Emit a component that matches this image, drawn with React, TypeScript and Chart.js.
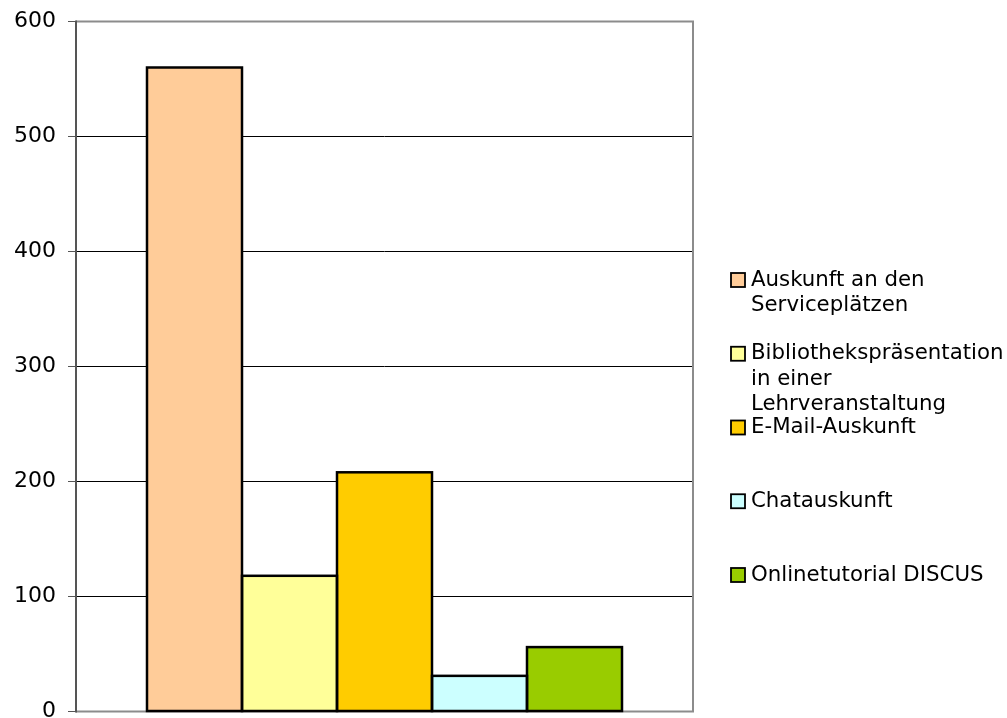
import { useEffect, useRef } from "react";
import { Chart, registerables } from "chart.js";

Chart.register(...registerables);

// Single category, one dataset per service type
const categories = [""];
const seriesLabels = [
  ["Auskunft an den", "Serviceplätzen"],
  ["Bibliothekspräsentation", "in einer", "Lehrveranstaltung"],
  ["E-Mail-Auskunft"],
  ["Chatauskunft"],
  ["Onlinetutorial DISCUS"],
];
const seriesValues = [560, 118, 208, 31, 56];
const seriesColors = ["#FFCC99", "#FFFF99", "#FFCC00", "#CCFFFF", "#99CC00"];
const yMin = 0;
const yMax = 600;
const yStep = 100;

const FONT = "'DejaVu Sans', Verdana, sans-serif";

// Gray frame around the plot area
const framePlugin = {
  id: "frame",
  beforeDatasetsDraw(chart: any) {
    const { ctx, chartArea: a } = chart;
    ctx.save();
    ctx.lineWidth = 2;
    ctx.strokeStyle = "#8c8c8c";
    ctx.beginPath();
    ctx.moveTo(a.left, a.top);
    ctx.lineTo(a.right, a.top);
    ctx.lineTo(a.right, a.bottom);
    ctx.lineTo(a.left, a.bottom);
    ctx.stroke();
    ctx.strokeStyle = "#555555";
    ctx.beginPath();
    ctx.moveTo(a.left, a.top - 1);
    ctx.lineTo(a.left, a.bottom + 1);
    ctx.stroke();
    ctx.restore();
  },
};

// Black outlines centred on the bar edges, so neighbouring bars share one line
const barOutlinePlugin = {
  id: "barOutline",
  afterDatasetsDraw(chart: any) {
    const { ctx } = chart;
    ctx.save();
    ctx.lineWidth = 2.5;
    ctx.strokeStyle = "#000";
    chart.data.datasets.forEach((_: any, i: number) => {
      const meta = chart.getDatasetMeta(i);
      meta.data.forEach((bar: any) => {
        const { x, y, base, width } = bar.getProps(["x", "y", "base", "width"], true);
        ctx.strokeRect(x - width / 2, Math.min(y, base), width, Math.abs(base - y));
      });
    });
    ctx.restore();
  },
};

// Legend on the right with wrapped entries at a fixed pitch
const legendPlugin = {
  id: "wrappedLegend",
  afterDraw(chart: any) {
    const { ctx } = chart;
    const x0 = 731;
    const firstY = 280;
    const pitch = 73.75;
    const lineH = 25.5;
    ctx.save();
    ctx.font = `21.3px ${FONT}`;
    ctx.textBaseline = "middle";
    ctx.textAlign = "left";
    chart.data.datasets.forEach((ds: any, i: number) => {
      const y = firstY + i * pitch;
      ctx.fillStyle = ds.backgroundColor;
      ctx.fillRect(x0, y - 7, 14, 14);
      ctx.lineWidth = 1.8;
      ctx.strokeStyle = "#000";
      ctx.strokeRect(x0, y - 7, 14, 14);
      ctx.fillStyle = "#000";
      seriesLabels[i].forEach((line, j) => {
        ctx.fillText(line, x0 + 20, y + j * lineH);
      });
    });
    ctx.restore();
  },
};

export default function App() {
  const ref = useRef<HTMLCanvasElement | null>(null);

  useEffect(() => {
    if (!ref.current) return;
    const chart = new Chart(ref.current, {
      type: "bar",
      data: {
        labels: categories,
        datasets: seriesValues.map((v, i) => ({
          label: seriesLabels[i].join(" "),
          data: [v],
          backgroundColor: seriesColors[i],
          borderWidth: 0,
        })),
      },
      options: {
        animation: false,
        responsive: false,
        maintainAspectRatio: false,
        layout: { padding: { left: 0, top: 21.5, right: 314, bottom: 6.5 } },
        datasets: { bar: { categoryPercentage: 475 / 617, barPercentage: 1 } },
        plugins: {
          legend: { display: false },
          tooltip: { enabled: false },
        },
        scales: {
          x: { display: false },
          y: {
            min: yMin,
            max: yMax,
            ticks: {
              stepSize: yStep,
              color: "#000",
              padding: 12,
              font: { family: FONT, size: 22 },
            },
            border: { display: false },
            grid: {
              tickLength: 8,
              tickColor: "#555555",
              lineWidth: 1,
              color: (c: any) =>
                c.tick && (c.tick.value === yMin || c.tick.value === yMax)
                  ? "rgba(0,0,0,0)"
                  : "#000000",
            },
            afterFit(scale: any) {
              scale.width = 76;
              scale.paddingTop = 0;
              scale.paddingBottom = 0;
            },
          },
        },
      },
      plugins: [framePlugin, barOutlinePlugin, legendPlugin],
    });
    return () => chart.destroy();
  }, []);

  return (
    <div style={{ position: "fixed", left: 0, top: 0, width: 1007, height: 718, background: "#fff" }}>
      <canvas ref={ref} width={1007} height={718} style={{ width: 1007, height: 718 }} />
    </div>
  );
}
